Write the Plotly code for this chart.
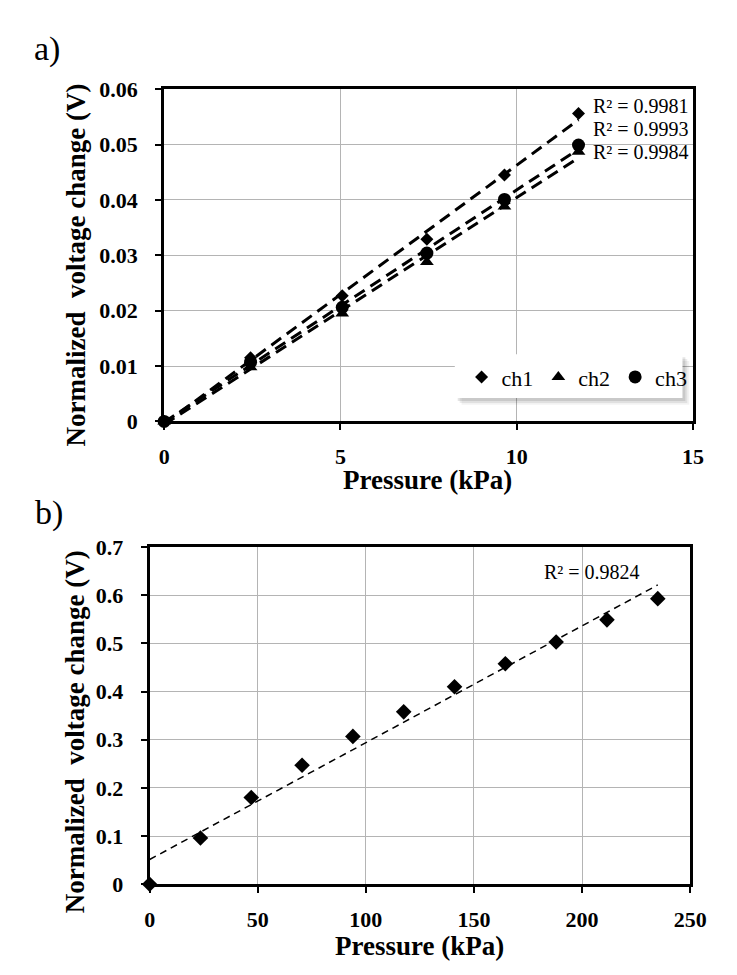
import numpy as np
import plotly.graph_objects as go

# ---------------- data ----------------
pressure_a = [0, 2.45, 5.05, 7.45, 9.65, 11.75]
ch1 = [0, 0.0115, 0.0227, 0.0329, 0.0445, 0.0556]
ch2 = [0, 0.0098, 0.0195, 0.0288, 0.0388, 0.0487]
ch3 = [0, 0.0107, 0.0206, 0.0304, 0.0401, 0.0499]
r2_a = ["R² = 0.9981", "R² = 0.9993", "R² = 0.9984"]

pressure_b = [0, 23.5, 47, 70.5, 94, 117.5, 141, 164.5, 188, 211.5, 235]
voltage_b = [0, 0.096, 0.180, 0.247, 0.307, 0.358, 0.410, 0.458, 0.503, 0.549, 0.593]
r2_b = "R² = 0.9824"

x_title = "Pressure (kPa)"
y_title = "Normalized  voltage change (V)"

# ---------------- layout helpers ----------------
W, H = 737, 975
def px(x):
    return x / W
def py(y):
    return 1 - y / H

SERIF = "Liberation Serif, Times New Roman, serif"
tick_font = dict(family=SERIF, size=22, color="black", weight="bold")
title_font = dict(family=SERIF, size=27, color="black", weight="bold")


def trend(x, y):
    k, b = np.polyfit(np.array(x, float), np.array(y, float), 1)
    xs = np.array([0.0, max(x)])
    return xs, k * xs + b


fig = go.Figure()

series = [("ch1", ch1, "diamond", 10), ("ch2", ch2, "triangle-up", 12), ("ch3", ch3, "circle", 13)]
for name, ys, sym, sz in series:
    tx, ty = trend(pressure_a, ys)
    fig.add_trace(go.Scatter(x=tx, y=ty, mode="lines", xaxis="x", yaxis="y",
                             line=dict(color="black", width=3, dash="12px,7px"),
                             showlegend=False, hoverinfo="skip", cliponaxis=False))
for name, ys, sym, sz in series:
    fig.add_trace(go.Scatter(x=pressure_a, y=ys, mode="markers", name=name, xaxis="x", yaxis="y",
                             marker=dict(symbol=sym, size=sz, color="black"), cliponaxis=False))

tx, ty = trend(pressure_b, voltage_b)
fig.add_trace(go.Scatter(x=tx, y=ty, mode="lines", xaxis="x2", yaxis="y2",
                         line=dict(color="black", width=1.5, dash="7px,5px"),
                         showlegend=False, hoverinfo="skip"))
fig.add_trace(go.Scatter(x=pressure_b, y=voltage_b, mode="markers", xaxis="x2", yaxis="y2",
                         marker=dict(symbol="diamond", size=12, color="black"),
                         showlegend=False, cliponaxis=False))

axis_common = dict(showline=True, mirror=True, linewidth=3, linecolor="black",
                   showgrid=True, gridcolor="#b4b4b4", gridwidth=1, zeroline=False,
                   ticks="outside", ticklen=6, tickwidth=2, tickcolor="black",
                   tickfont=tick_font)

fig.update_layout(
    width=W, height=H,
    margin=dict(l=0, r=0, t=0, b=0),
    paper_bgcolor="white", plot_bgcolor="white",
    xaxis=dict(domain=[px(155), px(701)], range=[0, 15], dtick=5, anchor="y",
               ticklabelstandoff=7, **axis_common),
    yaxis=dict(domain=[py(412), py(71)], range=[0, 0.06], dtick=0.01, anchor="x",
               ticklabelstandoff=13, **axis_common),
    xaxis2=dict(domain=[px(140), px(698)], range=[0, 250], dtick=50, anchor="y2",
                ticklabelstandoff=7, **axis_common),
    yaxis2=dict(domain=[py(887), py(541)], range=[0, 0.7], dtick=0.1, anchor="x2",
                ticklabelstandoff=13, **axis_common),
    showlegend=True,
    legend=dict(orientation="h", x=px(462), xanchor="left", y=py(345), yanchor="top",
                bgcolor="rgba(0,0,0,0)", borderwidth=0, itemwidth=30,
                font=dict(family=SERIF, size=22, color="black")),
)

# legend box with soft shadow
shapes = []
for off, op in [(7, 0.05), (5, 0.07), (3, 0.10)]:
    shapes.append(dict(type="rect", xref="paper", yref="paper",
                       x0=px(455 + off), x1=px(690 + off), y0=py(388 + off), y1=py(343 + off),
                       line=dict(width=0), fillcolor=f"rgba(0,0,0,{op})", layer="above"))
shapes.append(dict(type="rect", xref="paper", yref="paper",
                   x0=px(455), x1=px(690), y0=py(388), y1=py(343),
                   line=dict(width=0), fillcolor="white", layer="above"))
fig.update_layout(shapes=shapes)

ann = []
for txt, yy in zip(r2_a, [88, 112, 135]):
    ann.append(dict(text=txt, x=px(596), y=py(yy), xref="paper", yref="paper",
                    xanchor="left", yanchor="middle", showarrow=False,
                    font=dict(family=SERIF, size=20, color="black")))
ann.append(dict(text=r2_b, x=px(545), y=py(567), xref="paper", yref="paper",
                xanchor="left", yanchor="middle", showarrow=False,
                font=dict(family=SERIF, size=20, color="black")))
# axis titles
ann.append(dict(text=x_title, x=px(427), y=py(472), xref="paper", yref="paper",
                xanchor="center", yanchor="middle", showarrow=False, font=title_font))
ann.append(dict(text=x_title, x=px(419), y=py(950), xref="paper", yref="paper",
                xanchor="center", yanchor="middle", showarrow=False, font=title_font))
ann.append(dict(text=y_title, x=px(64), y=py(252), xref="paper", yref="paper", textangle=-90,
                xanchor="center", yanchor="middle", showarrow=False, font=title_font))
ann.append(dict(text=y_title, x=px(63), y=py(731), xref="paper", yref="paper", textangle=-90,
                xanchor="center", yanchor="middle", showarrow=False, font=title_font))
# panel labels
ann.append(dict(text="a)", x=px(34), y=py(30), xref="paper", yref="paper",
                xanchor="center", yanchor="middle", showarrow=False,
                font=dict(family=SERIF, size=34, color="black")))
ann.append(dict(text="b)", x=px(36), y=py(506), xref="paper", yref="paper",
                xanchor="center", yanchor="middle", showarrow=False,
                font=dict(family=SERIF, size=34, color="black")))
fig.update_layout(annotations=ann)

fig.write_html("out.html")
